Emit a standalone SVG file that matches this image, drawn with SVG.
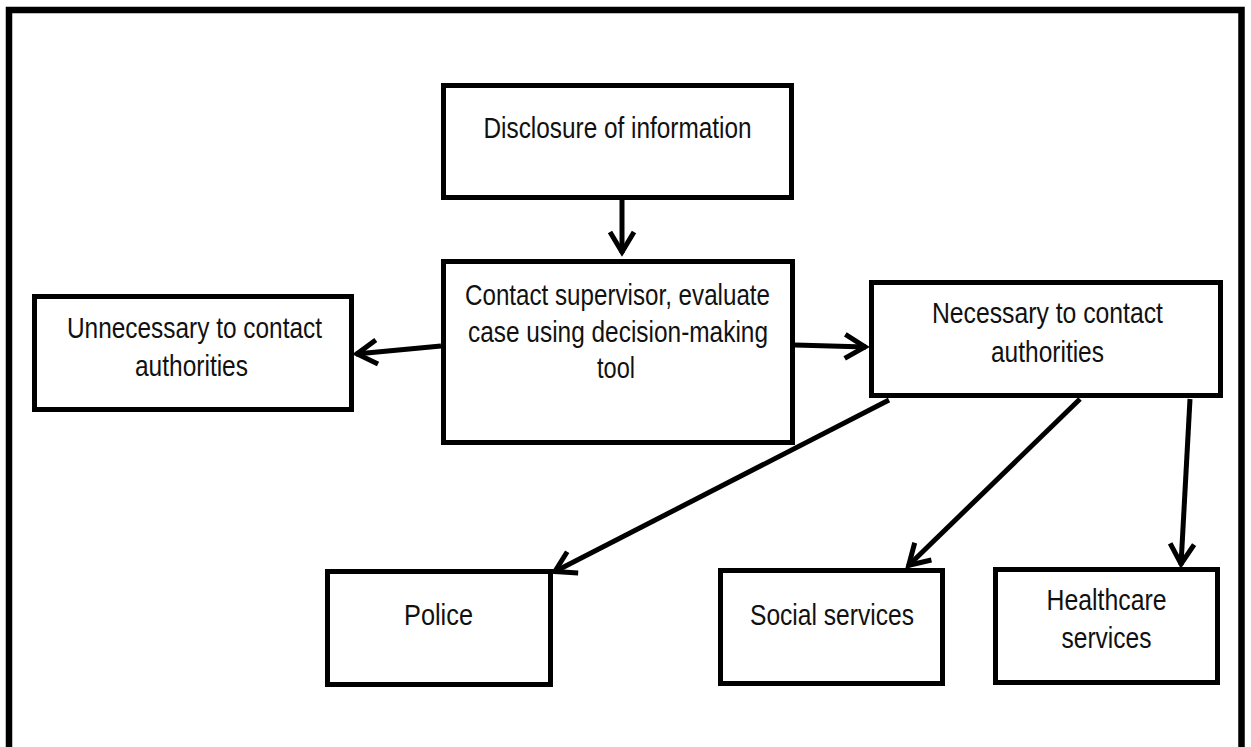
<svg xmlns="http://www.w3.org/2000/svg" width="1251" height="747" viewBox="0 0 1251 747">
<style>
.box{fill:#fff;stroke:#000;stroke-width:5}
.lbl{font-family:"Liberation Sans",Arial,sans-serif;font-size:29px;fill:#111;text-anchor:middle}
.conn{stroke:#000;stroke-width:5;fill:none;marker-end:url(#arr)}
</style>
<defs>
<marker id="arr" markerUnits="userSpaceOnUse" markerWidth="40" markerHeight="40" viewBox="-30 -20 40 40" refX="0" refY="0" orient="auto">
<path d="M-21,-12 L-1,0 L-21,12" fill="none" stroke="#000" stroke-width="5" stroke-linejoin="miter"/>
</marker>
</defs>
<rect x="0" y="0" width="1251" height="747" fill="#fff"/>
<rect id="frame" x="9" y="10" width="1232.5" height="780" fill="none" stroke="#000" stroke-width="6.5"/>
<g id="connectors">
<line class="conn" x1="622" y1="199" x2="622" y2="253"/>
<line class="conn" x1="441" y1="346" x2="356" y2="354"/>
<line class="conn" x1="795" y1="345" x2="866" y2="347"/>
<line class="conn" x1="889" y1="400" x2="554" y2="572"/>
<line class="conn" x1="1080" y1="399" x2="908" y2="566"/>
<line class="conn" x1="1190" y1="399" x2="1181" y2="565"/>
</g>
<g id="disclosure">
<rect class="box" x="443.5" y="85.5" width="348" height="112"/>
<text class="lbl" x="617.5" y="138" textLength="268" lengthAdjust="spacingAndGlyphs">Disclosure of information</text>
</g>
<g id="contact">
<rect class="box" x="443.5" y="261.5" width="349" height="181"/>
<text class="lbl" x="617.5" y="305" textLength="305" lengthAdjust="spacingAndGlyphs">Contact supervisor, evaluate</text>
<text class="lbl" x="618" y="341.5" textLength="300" lengthAdjust="spacingAndGlyphs">case using decision-making</text>
<text class="lbl" x="616" y="378" textLength="38" lengthAdjust="spacingAndGlyphs">tool</text>
</g>
<g id="unnecessary">
<rect class="box" x="34.5" y="296.5" width="317" height="113"/>
<text class="lbl" x="194.5" y="338" textLength="255" lengthAdjust="spacingAndGlyphs">Unnecessary to contact</text>
<text class="lbl" x="191.5" y="376" textLength="113" lengthAdjust="spacingAndGlyphs">authorities</text>
</g>
<g id="necessary">
<rect class="box" x="871.5" y="282.5" width="349" height="113"/>
<text class="lbl" x="1047.5" y="323" textLength="231" lengthAdjust="spacingAndGlyphs">Necessary to contact</text>
<text class="lbl" x="1047.5" y="361.5" textLength="113" lengthAdjust="spacingAndGlyphs">authorities</text>
</g>
<g id="police">
<rect class="box" x="327.5" y="571.5" width="223" height="113"/>
<text class="lbl" x="438.5" y="625" textLength="69" lengthAdjust="spacingAndGlyphs">Police</text>
</g>
<g id="social">
<rect class="box" x="720.5" y="570.5" width="222" height="113"/>
<text class="lbl" x="832" y="625" textLength="164" lengthAdjust="spacingAndGlyphs">Social services</text>
</g>
<g id="healthcare">
<rect class="box" x="995.5" y="569.5" width="222" height="113"/>
<text class="lbl" x="1106.5" y="610" textLength="120" lengthAdjust="spacingAndGlyphs">Healthcare</text>
<text class="lbl" x="1106.5" y="648" textLength="90" lengthAdjust="spacingAndGlyphs">services</text>
</g>
</svg>
